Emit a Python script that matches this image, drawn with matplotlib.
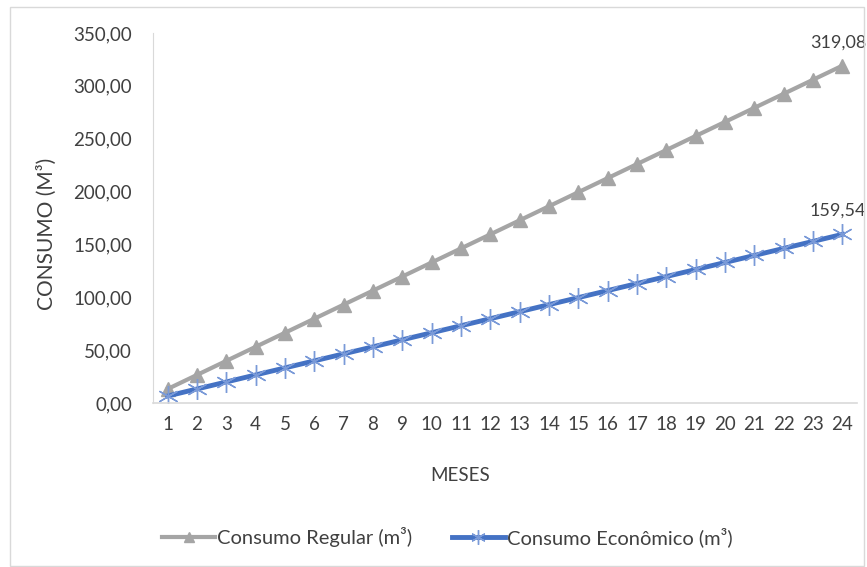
import matplotlib
matplotlib.use("Agg")
import matplotlib.pyplot as plt
from matplotlib.patches import Rectangle

meses = list(range(1, 25))
consumo_regular = [13.30, 26.59, 39.89, 53.18, 66.48, 79.77, 93.07, 106.36, 119.66, 132.95,
                   146.25, 159.54, 172.84, 186.13, 199.43, 212.72, 226.02, 239.31, 252.61,
                   265.90, 279.20, 292.49, 305.79, 319.08]
consumo_economico = [6.65, 13.30, 19.94, 26.59, 33.24, 39.89, 46.53, 53.18, 59.83, 66.48,
                     73.12, 79.77, 86.42, 93.07, 99.71, 106.36, 113.01, 119.66, 126.30,
                     132.95, 139.60, 146.25, 152.89, 159.54]
y_ticks = [0, 50, 100, 150, 200, 250, 300, 350]

plt.rcParams['font.family'] = ['Lato', 'DejaVu Sans']
txt = '#404040'

fig = plt.figure(figsize=(8.67, 5.67), dpi=100)
ax = fig.add_axes([0.1765, 0.2892, 0.812, 0.6526])

fig.patches.append(Rectangle((0.011, 0.002), 0.985, 0.985, transform=fig.transFigure,
                             fill=False, edgecolor='#D9D9D9', linewidth=1))

ax.plot(meses, consumo_regular, color='#A5A5A5', linewidth=3, marker='^',
        markersize=10, markerfacecolor='#A5A5A5', markeredgecolor='#A5A5A5',
        label='Consumo Regular (m³)')
ax.plot(meses, consumo_economico, color='#4472C4', linewidth=3.5, marker=(6, 2, 0),
        markersize=15, markeredgecolor='#7A9AD8', markeredgewidth=1,
        label='Consumo Econômico (m³)')

ax.annotate(f"{consumo_regular[-1]:.2f}".replace('.', ','), (meses[-1], consumo_regular[-1]),
            xytext=(-3, 11), textcoords='offset points', ha='center', va='bottom',
            fontsize=13, color=txt)
ax.annotate(f"{consumo_economico[-1]:.2f}".replace('.', ','), (meses[-1], consumo_economico[-1]),
            xytext=(-3, 11), textcoords='offset points', ha='center', va='bottom',
            fontsize=13, color=txt)

ax.set_xlim(0.5, 24.5)
ax.set_ylim(0, 350)
ax.set_yticks(y_ticks)
ax.set_yticklabels([f"{v:.2f}".replace('.', ',') for v in y_ticks])
ax.set_xticks(meses)
ax.set_xticklabels([str(m) for m in meses])
ax.tick_params(axis='both', length=0, labelsize=13.5, labelcolor=txt)
ax.tick_params(axis='x', pad=9)
ax.tick_params(axis='y', pad=15)

for s in ['top', 'right']:
    ax.spines[s].set_visible(False)
ax.spines['left'].set_color('#D9D9D9')
ax.spines['bottom'].set_color('#D9D9D9')
ax.spines['bottom'].set_linewidth(1.2)

ax.set_xlabel('MESES', fontsize=13.5, color=txt)
ax.set_ylabel('CONSUMO (M³)', fontsize=15, color=txt)
ax.xaxis.set_label_coords(0.436, -0.172)
ax.yaxis.set_label_coords(-0.136, 0.457)

fig.legend(loc='center', bbox_to_anchor=(0.516, 0.053), ncol=2, frameon=False,
           fontsize=14.5, labelcolor=txt, handlelength=2.6, columnspacing=2.0,
           handletextpad=0.1, markerscale=0.7)

fig.savefig('out.png', dpi=100)
